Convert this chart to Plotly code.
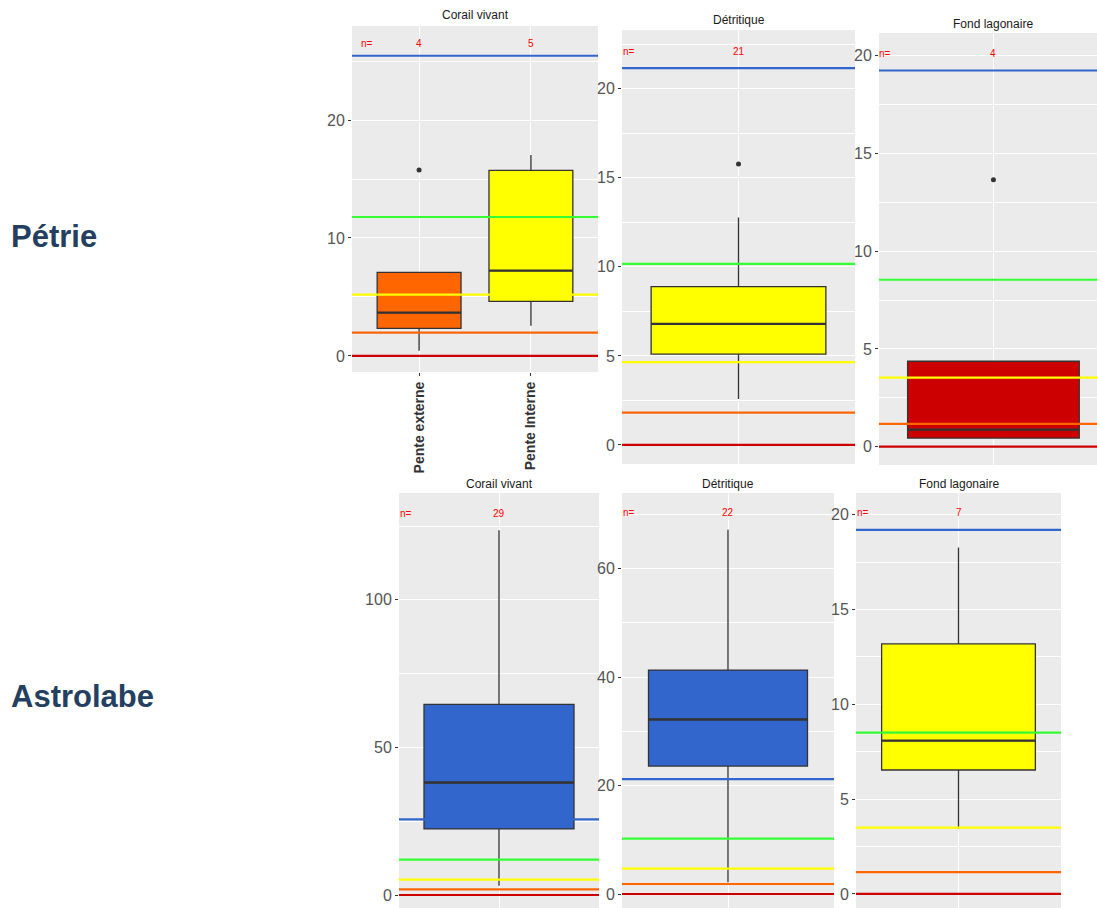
import plotly.graph_objects as go

# ---------------------------------------------------------------------------
# Data: per-site, per-habitat box statistics, sample sizes and threshold lines
# ---------------------------------------------------------------------------
sites = ["Pétrie", "Astrolabe"]
habitat_titles = ["Corail vivant", "Détritique", "Fond lagonaire"]

# Pétrie - Corail vivant (two slope categories)
petrie_corail_cats = ["Pente externe", "Pente Interne"]
petrie_corail_q1 = [2.34, 4.63]
petrie_corail_median = [3.67, 7.23]
petrie_corail_q3 = [7.09, 15.73]
petrie_corail_lower = [0.45, 2.57]
petrie_corail_upper = [7.09, 17.03]
petrie_corail_outliers = [[15.76], []]
petrie_corail_n = [4, 5]
petrie_corail_fill = ["#FF6600", "#FFFF00"]
petrie_corail_thresholds = [0, 1.98, 5.2, 11.78, 25.45]

# Pétrie - Détritique
petrie_detri_q1 = [5.1]
petrie_detri_median = [6.8]
petrie_detri_q3 = [8.89]
petrie_detri_lower = [2.58]
petrie_detri_upper = [12.77]
petrie_detri_outliers = [[15.77]]
petrie_detri_n = [21]
petrie_detri_fill = ["#FFFF00"]
petrie_detri_thresholds = [0, 1.81, 4.65, 10.17, 21.16]

# Pétrie - Fond lagonaire
petrie_fond_q1 = [0.44]
petrie_fond_median = [0.87]
petrie_fond_q3 = [4.37]
petrie_fond_lower = [0.44]
petrie_fond_upper = [4.37]
petrie_fond_outliers = [[13.66]]
petrie_fond_n = [4]
petrie_fond_fill = ["#CC0000"]
petrie_fond_thresholds = [0, 1.16, 3.53, 8.54, 19.25]

# Astrolabe - Corail vivant
astro_corail_q1 = [22.4]
astro_corail_median = [38.1]
astro_corail_q3 = [64.6]
astro_corail_lower = [3.15]
astro_corail_upper = [123.6]
astro_corail_outliers = [[]]
astro_corail_n = [29]
astro_corail_fill = ["#3366CC"]
astro_corail_thresholds = [0, 1.9, 5.2, 11.97, 25.6]

# Astrolabe - Détritique
astro_detri_q1 = [23.6]
astro_detri_median = [32.2]
astro_detri_q3 = [41.3]
astro_detri_lower = [2.16]
astro_detri_upper = [67.2]
astro_detri_outliers = [[]]
astro_detri_n = [22]
astro_detri_fill = ["#3366CC"]
astro_detri_thresholds = [0, 1.85, 4.7, 10.2, 21.2]

# Astrolabe - Fond lagonaire
astro_fond_q1 = [6.54]
astro_fond_median = [8.09]
astro_fond_q3 = [13.19]
astro_fond_lower = [3.43]
astro_fond_upper = [18.27]
astro_fond_outliers = [[]]
astro_fond_n = [7]
astro_fond_fill = ["#FFFF00"]
astro_fond_thresholds = [0, 1.15, 3.5, 8.51, 19.2]

# Threshold line colours (same order as the threshold values)
threshold_colors = ["#CC0000", "#FF6600", "#FFFF00", "#33FF33", "#3366CC"]

# ---------------------------------------------------------------------------
# Panel layout (pixel boxes in a 1097 x 908 page) and axis settings
# ---------------------------------------------------------------------------
W, H = 1097, 908
FONT = "Arial, Liberation Sans, sans-serif"

panels = [
    dict(title=habitat_titles[0], cats=petrie_corail_cats,
         q1=petrie_corail_q1, med=petrie_corail_median, q3=petrie_corail_q3,
         lo=petrie_corail_lower, hi=petrie_corail_upper, out=petrie_corail_outliers,
         n=petrie_corail_n, fill=petrie_corail_fill, thr=petrie_corail_thresholds,
         px=(352, 598), py=(26, 372), xr=(0.4, 2.6), yr=(-1.36, 27.97),
         dtick=10, boxw=0.75, ny=26.5, nlab_x=0.53, title_y=15),
    dict(title=habitat_titles[1], cats=[""],
         q1=petrie_detri_q1, med=petrie_detri_median, q3=petrie_detri_q3,
         lo=petrie_detri_lower, hi=petrie_detri_upper, out=petrie_detri_outliers,
         n=petrie_detri_n, fill=petrie_detri_fill, thr=petrie_detri_thresholds,
         px=(622, 855), py=(30, 464), xr=(0.4, 1.6), yr=(-1.07, 23.3),
         dtick=5, boxw=0.9, ny=22.1, nlab_x=0.436, title_y=20),
    dict(title=habitat_titles[2], cats=[""],
         q1=petrie_fond_q1, med=petrie_fond_median, q3=petrie_fond_q3,
         lo=petrie_fond_lower, hi=petrie_fond_upper, out=petrie_fond_outliers,
         n=petrie_fond_n, fill=petrie_fond_fill, thr=petrie_fond_thresholds,
         px=(879, 1097), py=(33, 465), xr=(0.4, 1.543), yr=(-0.94, 21.17),
         dtick=5, boxw=0.9, ny=20.1, nlab_x=0.431, title_y=24),
    dict(title=habitat_titles[0], cats=[""],
         q1=astro_corail_q1, med=astro_corail_median, q3=astro_corail_q3,
         lo=astro_corail_lower, hi=astro_corail_upper, out=astro_corail_outliers,
         n=astro_corail_n, fill=astro_corail_fill, thr=astro_corail_thresholds,
         px=(399, 599), py=(493, 908), xr=(0.4, 1.6), yr=(-4.4, 136.2),
         dtick=50, boxw=0.9, ny=129.3, nlab_x=0.44, title_y=484),
    dict(title=habitat_titles[1], cats=[""],
         q1=astro_detri_q1, med=astro_detri_median, q3=astro_detri_q3,
         lo=astro_detri_lower, hi=astro_detri_upper, out=astro_detri_outliers,
         n=astro_detri_n, fill=astro_detri_fill, thr=astro_detri_thresholds,
         px=(622, 834), py=(493, 908), xr=(0.4, 1.6), yr=(-2.58, 73.97),
         dtick=20, boxw=0.9, ny=70.3, nlab_x=0.441, title_y=484),
    dict(title=habitat_titles[2], cats=[""],
         q1=astro_fond_q1, med=astro_fond_median, q3=astro_fond_q3,
         lo=astro_fond_lower, hi=astro_fond_upper, out=astro_fond_outliers,
         n=astro_fond_n, fill=astro_fond_fill, thr=astro_fond_thresholds,
         px=(856, 1061), py=(493, 908), xr=(0.4, 1.6), yr=(-0.74, 21.15),
         dtick=5, boxw=0.9, ny=20.1, nlab_x=0.439, title_y=484),
]

fig = go.Figure()
annotations = []
shapes = []
layout_axes = {}

for i, p in enumerate(panels, start=1):
    xa = "x" if i == 1 else f"x{i}"
    ya = "y" if i == 1 else f"y{i}"
    xkey = "xaxis" if i == 1 else f"xaxis{i}"
    ykey = "yaxis" if i == 1 else f"yaxis{i}"
    positions = list(range(1, len(p["cats"]) + 1))

    # Upper threshold line, drawn before the boxes so they cover it
    top_val = p["thr"][-1]
    fig.add_trace(go.Scatter(
        x=list(p["xr"]), y=[top_val, top_val], mode="lines",
        line=dict(color=threshold_colors[-1], width=2.2),
        showlegend=False, hoverinfo="skip", xaxis=xa, yaxis=ya, cliponaxis=True,
    ))

    # Boxes (precomputed statistics)
    for j, pos in enumerate(positions):
        fig.add_trace(go.Box(
            x=[pos], q1=[p["q1"][j]], median=[p["med"][j]], q3=[p["q3"][j]],
            lowerfence=[p["lo"][j]], upperfence=[p["hi"][j]],
            width=p["boxw"], fillcolor=p["fill"][j],
            line=dict(color="#333333", width=1.3), whiskerwidth=0,
            boxpoints=False, showlegend=False, hoverinfo="skip",
            xaxis=xa, yaxis=ya,
        ))
        # Thicker median bar
        half = p["boxw"] / 2
        fig.add_trace(go.Scatter(
            x=[pos - half, pos + half], y=[p["med"][j], p["med"][j]],
            mode="lines", line=dict(color="#333333", width=2.4),
            showlegend=False, hoverinfo="skip", xaxis=xa, yaxis=ya,
        ))
        if p["out"][j]:
            fig.add_trace(go.Scatter(
                x=[pos] * len(p["out"][j]), y=p["out"][j], mode="markers",
                marker=dict(color="#333333", size=5),
                showlegend=False, hoverinfo="skip", xaxis=xa, yaxis=ya,
            ))

    # Remaining threshold lines on top of the boxes
    for val, col in zip(p["thr"][:-1], threshold_colors[:-1]):
        shapes.append(dict(
            type="line", xref=f"{xa} domain", x0=0, x1=1, yref=ya, y0=val, y1=val,
            line=dict(color=col, width=2.2), layer="above",
        ))

    # Sample size labels
    annotations.append(dict(
        xref=xa, yref=ya, x=p["nlab_x"], y=p["ny"], text="n=", showarrow=False,
        font=dict(family=FONT, size=10, color="#FF0000"),
    ))
    for j, pos in enumerate(positions):
        annotations.append(dict(
            xref=xa, yref=ya, x=pos, y=p["ny"], text=str(p["n"][j]), showarrow=False,
            font=dict(family=FONT, size=10, color="#FF0000"),
        ))

    # Panel title
    annotations.append(dict(
        xref=xa, yref="paper", x=(positions[0] + positions[-1]) / 2,
        y=1 - p["title_y"] / H, yanchor="middle", text=p["title"], showarrow=False,
        font=dict(family=FONT, size=12, color="#1A1A1A"),
    ))

    show_x_labels = any(c for c in p["cats"])
    layout_axes[xkey] = dict(
        domain=[p["px"][0] / W, p["px"][1] / W], anchor=ya, range=list(p["xr"]),
        tickvals=positions, ticktext=p["cats"], showticklabels=show_x_labels,
        tickangle=-90, tickfont=dict(family=FONT, size=14, color="#333333", weight="bold"),
        ticks="outside" if show_x_labels else "", ticklen=3, tickcolor="#333333",
        showgrid=True, gridcolor="white", gridwidth=1.3, zeroline=False,
        fixedrange=True,
    )
    layout_axes[ykey] = dict(
        domain=[1 - p["py"][1] / H, 1 - p["py"][0] / H], anchor=xa, range=list(p["yr"]),
        tick0=0, dtick=p["dtick"], ticks="outside", ticklen=3, tickcolor="#333333",
        tickfont=dict(family=FONT, size=16, color="#555555"),
        showgrid=True, gridcolor="white", gridwidth=1.3, zeroline=False,
        minor=dict(dtick=p["dtick"] / 2, tick0=0, showgrid=True,
                   gridcolor="white", gridwidth=0.7),
        fixedrange=True,
    )

# Site labels on the left
for site, ypx in zip(sites, [236, 696]):
    annotations.append(dict(
        xref="paper", yref="paper", x=9 / W, y=1 - ypx / H, xanchor="left",
        yanchor="middle", text=f"<b>{site}</b>", showarrow=False,
        font=dict(family=FONT, size=31, color="#243F60"),
    ))

fig.update_layout(
    width=W, height=H, margin=dict(l=0, r=0, t=0, b=0),
    paper_bgcolor="white", plot_bgcolor="#EBEBEB",
    showlegend=False, annotations=annotations, shapes=shapes,
    **layout_axes,
)

fig.write_html("out.html")
